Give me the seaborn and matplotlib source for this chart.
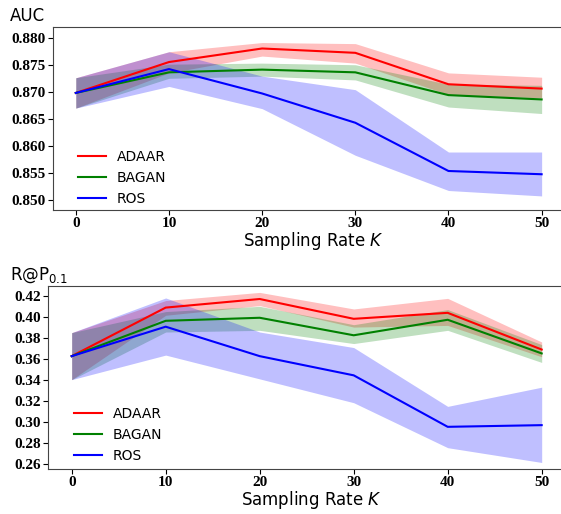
import numpy as np
import pandas as pd
import seaborn as sns
import matplotlib.pyplot as plt

# taxas de amostragem K
K = [0, 10, 20, 30, 40, 50]
metodos = ['ADAAR', 'BAGAN', 'ROS']
cores = {'ADAAR': 'red', 'BAGAN': 'green', 'ROS': 'blue'}

# AUC (media, limite inferior, limite superior)
auc_adaar = [0.8698, 0.8755, 0.8780, 0.8772, 0.8714, 0.8706]
auc_adaar_lo = [0.8670, 0.8735, 0.8766, 0.8753, 0.8695, 0.8689]
auc_adaar_hi = [0.8726, 0.8774, 0.8791, 0.8789, 0.8735, 0.8727]
auc_bagan = [0.8698, 0.8736, 0.8741, 0.8736, 0.8694, 0.8686]
auc_bagan_lo = [0.8670, 0.8725, 0.8729, 0.8722, 0.8672, 0.8660]
auc_bagan_hi = [0.8726, 0.8751, 0.8753, 0.8750, 0.8714, 0.8712]
auc_ros = [0.8698, 0.8742, 0.8697, 0.8643, 0.8554, 0.8548]
auc_ros_lo = [0.8670, 0.8710, 0.8669, 0.8583, 0.8518, 0.8508]
auc_ros_hi = [0.8726, 0.8774, 0.8729, 0.8704, 0.8589, 0.8589]

# R@P0.1
rp_adaar = [0.363, 0.4093, 0.4175, 0.3986, 0.4043, 0.3693]
rp_adaar_lo = [0.3406, 0.4020, 0.4112, 0.3907, 0.3923, 0.3624]
rp_adaar_hi = [0.3854, 0.4160, 0.4238, 0.4080, 0.4181, 0.3765]
rp_bagan = [0.363, 0.3967, 0.3996, 0.3829, 0.3977, 0.3656]
rp_bagan_lo = [0.3406, 0.3860, 0.3876, 0.3750, 0.3876, 0.3570]
rp_bagan_hi = [0.3854, 0.4055, 0.4105, 0.3930, 0.4074, 0.3740]
rp_ros = [0.363, 0.3911, 0.363, 0.3447, 0.2956, 0.2972]
rp_ros_lo = [0.3406, 0.3640, 0.3413, 0.3186, 0.2757, 0.2616]
rp_ros_hi = [0.3854, 0.4185, 0.3860, 0.3712, 0.3151, 0.3334]


def monta_df(medias, lows, highs):
    linhas = []
    for m, med, lo, hi in zip(metodos, medias, lows, highs):
        for k, v, a, b in zip(K, med, lo, hi):
            linhas.append({'K': k, 'valor': v, 'lo': a, 'hi': b, 'metodo': m})
    return pd.DataFrame(linhas)


df_auc = monta_df([auc_adaar, auc_bagan, auc_ros],
                  [auc_adaar_lo, auc_bagan_lo, auc_ros_lo],
                  [auc_adaar_hi, auc_bagan_hi, auc_ros_hi])
df_rp = monta_df([rp_adaar, rp_bagan, rp_ros],
                 [rp_adaar_lo, rp_bagan_lo, rp_ros_lo],
                 [rp_adaar_hi, rp_bagan_hi, rp_ros_hi])

fig = plt.figure(figsize=(5.61, 5.14), dpi=100)
ax1 = fig.add_axes([0.0936, 0.5914, 0.93, 0.3554])
ax2 = fig.add_axes([0.0859, 0.0880, 0.94, 0.3560])


def desenha(ax, df, ylim, yticks, fmt, xmax, leg_y):
    for m in metodos:
        d = df[df['metodo'] == m]
        ax.fill_between(d['K'], d['lo'], d['hi'], color=cores[m], alpha=0.25, linewidth=0)
    sns.lineplot(data=df, x='K', y='valor', hue='metodo', palette=cores,
                 ax=ax, linewidth=1.5, errorbar=None)
    ax.set_xlim(-2.5, xmax)
    ax.set_ylim(*ylim)
    ax.set_xticks(K)
    ax.set_yticks(yticks)
    ax.set_yticklabels([fmt.format(t) for t in yticks])
    ax.tick_params(pad=1.5)
    for lab in ax.get_xticklabels() + ax.get_yticklabels():
        lab.set_fontfamily('Liberation Serif')
        lab.set_fontweight('bold')
        lab.set_fontsize(11)
    ax.set_ylabel('')
    ax.set_xlabel('Sampling Rate $K$', fontsize=12, labelpad=0)
    for s in ax.spines.values():
        s.set_color('#444444')
    ax.spines['right'].set_visible(False)  # cortado no original
    ax.legend(loc='lower left', bbox_to_anchor=(0.025, leg_y), frameon=False, fontsize=10,
              title=None)


# o eixo continua alem da borda direita da figura (cortado no original)
desenha(ax1, df_auc, (0.8482, 0.8819), [0.850, 0.855, 0.860, 0.865, 0.870, 0.875, 0.880], '{:.3f}', 53.5, -0.045)
desenha(ax2, df_rp, (0.2556, 0.4301), [0.26, 0.28, 0.30, 0.32, 0.34, 0.36, 0.38, 0.40, 0.42], '{:.2f}', 53.6, -0.035)

fig.text(10 / 561, 1 - 20.7 / 514, 'AUC', fontsize=12, va='baseline')
fig.text(10 / 561, 1 - 279.3 / 514, 'R@P$_{0.1}$', fontsize=12, va='baseline')

fig.savefig('out.png', dpi=100)
